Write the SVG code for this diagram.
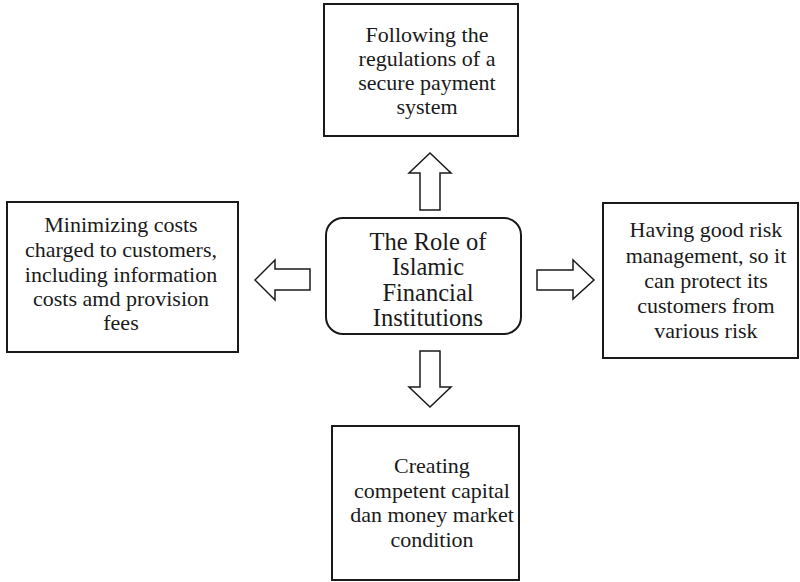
<svg xmlns="http://www.w3.org/2000/svg" width="800" height="582" viewBox="0 0 800 582">
  <style>
    .box { fill: #fff; stroke: #1a1a1a; stroke-width: 2; }
    .arrow { fill: #fff; stroke: #1a1a1a; stroke-width: 1.5; stroke-linejoin: miter; }
    text { font-family: "Liberation Serif", "Times New Roman", serif; font-size: 22px; fill: #1a1a1a; text-anchor: middle; }
    .hub text { font-size: 24.5px; }
  </style>
  <rect width="800" height="582" fill="#fff"/>

  <!-- block arrows from the hub to each role -->
  <g id="connectors">
    <polygon class="arrow" points="420,210 420,173 409,173 430,153 451,173 440,173 440,210"/>
    <polygon class="arrow" points="420,351 440,351 440,387 451,387 430,407 409,387 420,387"/>
    <polygon class="arrow" points="310,269 275,269 275,260 255,280 275,300 275,290 310,290"/>
    <polygon class="arrow" points="537,270 573,270 573,260 594,280 573,299 573,290 537,290"/>
  </g>

  <g id="hub" class="hub">
    <rect class="box" x="326" y="218" width="195" height="116" rx="17" ry="17"/>
    <text x="428" y="250">The Role of</text>
    <text x="428" y="275">Islamic</text>
    <text x="428" y="300.5">Financial</text>
    <text x="428" y="326">Institutions</text>
  </g>

  <g id="payment">
    <rect class="box" x="324" y="4" width="194" height="132"/>
    <text x="427" y="42">Following the</text>
    <text x="427" y="66">regulations of a</text>
    <text x="427" y="90">secure payment</text>
    <text x="427" y="114">system</text>
  </g>

  <g id="costs">
    <rect class="box" x="7" y="202" width="231" height="150"/>
    <text x="121" y="232">Minimizing costs</text>
    <text x="121" y="257">charged to customers,</text>
    <text x="121" y="282">including information</text>
    <text x="121" y="306">costs amd provision</text>
    <text x="121" y="330">fees</text>
  </g>

  <g id="risk">
    <rect class="box" x="603" y="203" width="195" height="155"/>
    <text x="706" y="237">Having good risk</text>
    <text x="706" y="262.5">management, so it</text>
    <text x="706" y="288">can protect its</text>
    <text x="706" y="313">customers from</text>
    <text x="706" y="338">various risk</text>
  </g>

  <g id="market">
    <rect class="box" x="332" y="426" width="187" height="154"/>
    <text x="432" y="473">Creating</text>
    <text x="432" y="498">competent capital</text>
    <text x="432" y="522">dan money market</text>
    <text x="432" y="547">condition</text>
  </g>
</svg>
